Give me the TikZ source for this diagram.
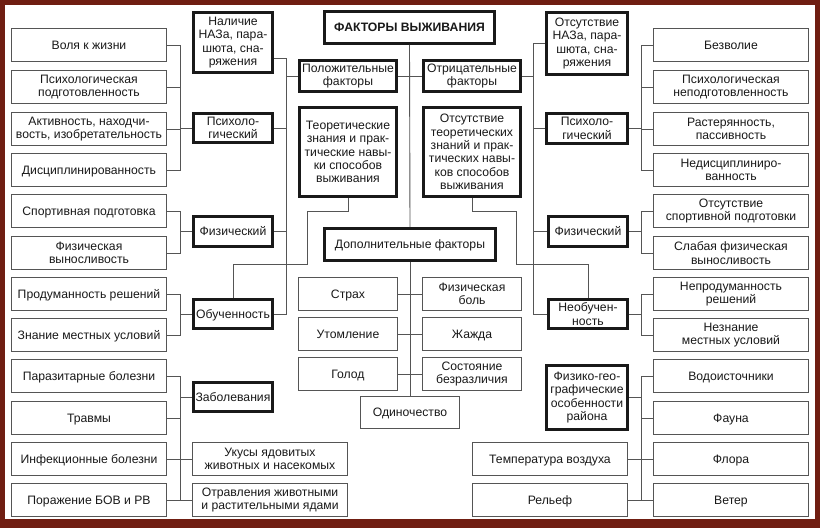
\documentclass[tikz,border=0pt]{standalone}
\usepackage{fontspec}
\setmainfont{Liberation Sans}
\usetikzlibrary{calc}
\definecolor{frame}{RGB}{112,30,18}
\definecolor{txt}{RGB}{25,25,25}
\definecolor{ln}{RGB}{85,85,85}
\begin{document}
\begin{tikzpicture}[x=1pt,y=-1pt,
 box/.style={draw=ln, line width=1pt, fill=white, align=center, text=txt, inner sep=0pt, font=\fontsize{12.2}{13.4}\selectfont},
 tbox/.style={box, draw=black!90, line width=2.8pt},
 lcol/.style={box, minimum width=155pt, minimum height=33pt},
 cbox/.style={box, minimum width=99pt, minimum height=33pt},
 one/.style={text height=8.7pt, text depth=0pt},
 conn/.style={draw=ln, line width=0.9pt}]
\useasboundingbox (0,0) rectangle (820,528);
\fill[frame] (0,0) rectangle (820,528);
\fill[white] (5,5) rectangle (815,519);
% left column
\node[lcol, one] (L1) at (89,45) {Воля к жизни};
\node[lcol] (L2) at (89,87) {Психологическая\\подготовленность};
\node[lcol] (L3) at (89,129) {Активность, находчи-\\вость, изобретательность};
\node[lcol, one] (L4) at (89,170) {Дисциплинированность};
\node[lcol, one] (L5) at (89,211) {Спортивная подготовка};
\node[lcol] (L6) at (89,253) {Физическая\\выносливость};
\node[lcol, one] (L7) at (89,294) {Продуманность решений};
\node[lcol, one] (L8) at (89,335) {Знание местных условий};
\node[lcol, one] (L9) at (89,376) {Паразитарные болезни};
\node[lcol, one] (L10) at (89,418) {Травмы};
\node[lcol, one] (L11) at (89,459) {Инфекционные болезни};
\node[lcol, one] (L12) at (89,500) {Поражение БОВ и РВ};
% right column
\node[lcol, one] (R1) at (731,45) {Безволие};
\node[lcol] (R2) at (731,87) {Психологическая\\неподготовленность};
\node[lcol] (R3) at (731,129) {Растерянность,\\пассивность};
\node[lcol] (R4) at (731,170) {Недисциплиниро-\\ванность};
\node[lcol] (R5) at (731,211) {Отсутствие\\спортивной подготовки};
\node[lcol] (R6) at (731,253) {Слабая физическая\\выносливость};
\node[lcol] (R7) at (731,294) {Непродуманность\\решений};
\node[lcol] (R8) at (731,335) {Незнание\\местных условий};
\node[lcol, one] (R9) at (731,376) {Водоисточники};
\node[lcol, one] (R10) at (731,418) {Фауна};
\node[lcol, one] (R11) at (731,459) {Флора};
\node[lcol, one] (R12) at (731,500) {Ветер};
% left second column
\node[tbox, minimum width=79pt, minimum height=60pt] (LNal) at (233,42.5) {Наличие\\НАЗа, пара-\\шюта, сна-\\ряжения};
\node[tbox, minimum width=79pt, minimum height=29pt] (LPsy) at (233,128) {Психоло-\\гический};
\node[tbox, one, minimum width=79pt, minimum height=30pt] (LPhys) at (233,231.5) {Физический};
\node[tbox, one, minimum width=79pt, minimum height=29pt] (LObu) at (233,314) {Обученность};
\node[tbox, one, minimum width=79pt, minimum height=29pt] (LZab) at (233,397) {Заболевания};
\node[lcol] (LUk) at (270,459) {Укусы ядовитых\\животных и насекомых};
\node[lcol] (LOtr) at (270,500) {Отравления животными\\и растительными ядами};
% right second column
\node[tbox, minimum width=81pt, minimum height=62pt] (ROts) at (587,43.5) {Отсутствие\\НАЗа, пара-\\шюта, сна-\\ряжения};
\node[tbox, minimum width=81pt, minimum height=30pt] (RPsy) at (587,128.5) {Психоло-\\гический};
\node[tbox, one, minimum width=79pt, minimum height=30pt] (RPhys) at (588,231.5) {Физический};
\node[tbox, minimum width=79pt, minimum height=29pt] (RNeob) at (588,314) {Необучен-\\ность};
\node[tbox, minimum width=81pt, minimum height=64pt] (RFiz) at (587,397.5) {Физико-гео-\\графические\\особенности\\района};
\node[lcol, one] (RTemp) at (550,459) {Температура воздуха};
\node[lcol, one] (RRel) at (550,500) {Рельеф};
% center
\node[tbox, one, minimum width=170pt, minimum height=32pt, font=\fontsize{12.2}{13.4}\selectfont\bfseries] (Main) at (409.5,27.5) {ФАКТОРЫ ВЫЖИВАНИЯ};
\node[tbox, minimum width=97pt, minimum height=31pt] (Pos) at (348,76) {Положительные\\факторы};
\node[tbox, minimum width=97pt, minimum height=31pt] (Neg) at (472,76) {Отрицательные\\факторы};
\node[tbox, minimum width=97pt, minimum height=89pt] (Teor) at (348,152) {Теоретические\\знания и прак-\\тические навы-\\ки способов\\выживания};
\node[tbox, minimum width=97pt, minimum height=89pt] (NTeor) at (472,152) {Отсутствие\\теоретических\\знаний и прак-\\тических навы-\\ков способов\\выживания};
\node[tbox, one, minimum width=171pt, minimum height=32pt] (Dop) at (410,244.5) {Дополнительные факторы};
\node[cbox, one] (Strah) at (348,294) {Страх};
\node[cbox] (Bol) at (472,294) {Физическая\\боль};
\node[cbox, one] (Utom) at (348,334) {Утомление};
\node[cbox, one] (Zhazh) at (472,334) {Жажда};
\node[cbox, one] (Golod) at (348,374) {Голод};
\node[cbox] (Sost) at (472,374) {Состояние\\безразличия};
\node[cbox, one, minimum height=32pt] (Odin) at (410,412.5) {Одиночество};
% bus coordinates
\coordinate (bl) at (180,0);
\coordinate (bm) at (286,0);
\coordinate (brm) at (533,0);
\coordinate (br) at (641,0);
\coordinate (j58) at (0,58);
\coordinate (ta) at (307,211);
\coordinate (tb) at (307,264);
\coordinate (ua) at (516,211);
\coordinate (ub) at (516,264);
% left groups
\draw[conn] (L1.east) -- (L1.east-|bl) -- (L4.east-|bl) -- (L4.east);
\draw[conn] (L2.east) -- (L2.east-|bl);
\draw[conn] (L3.east) -- (L3.east-|bl);
\draw[conn] (LPsy.west) -- (LPsy.west-|bl);
\draw[conn] (L5.east) -- (L5.east-|bl) -- (L6.east-|bl) -- (L6.east);
\draw[conn] (LPhys.west) -- (LPhys.west-|bl);
\draw[conn] (L7.east) -- (L7.east-|bl) -- (L8.east-|bl) -- (L8.east);
\draw[conn] (LObu.west) -- (LObu.west-|bl);
\draw[conn] (L9.east) -- (L9.east-|bl) -- (L12.east-|bl) -- (L12.east);
\draw[conn] (L10.east) -- (L10.east-|bl);
\draw[conn] (LZab.west) -- (LZab.west-|bl);
\draw[conn] (L11.east) -- (LUk.west);
\draw[conn] (L12.east) -- (LOtr.west);
% left main bus
\draw[conn] (LNal.east|-j58) -- (bm|-j58) -- (bm|-LObu.east) -- (LObu.east);
\draw[conn] (LPsy.east) -- (LPsy.east-|bm);
\draw[conn] (LPhys.east) -- (LPhys.east-|bm);
\draw[conn] (Pos.west) -- (Pos.west-|bm);
% right main bus
\draw[conn] (ROts.west) -- (ROts.west-|brm) -- (RNeob.west-|brm) -- (RNeob.west);
\draw[conn] (Neg.east) -- (Neg.east-|brm);
\draw[conn] (RPsy.west) -- (RPsy.west-|brm);
\draw[conn] (RPhys.west) -- (RPhys.west-|brm);
% right groups
\draw[conn] (R1.west) -- (R1.west-|br) -- (R4.west-|br) -- (R4.west);
\draw[conn] (R2.west) -- (R2.west-|br);
\draw[conn] (R3.west) -- (R3.west-|br);
\draw[conn] (RPsy.east) -- (RPsy.east-|br);
\draw[conn] (R5.west) -- (R5.west-|br) -- (R6.west-|br) -- (R6.west);
\draw[conn] (RPhys.east) -- (RPhys.east-|br);
\draw[conn] (R7.west) -- (R7.west-|br) -- (R8.west-|br) -- (R8.west);
\draw[conn] (RNeob.east) -- (RNeob.east-|br);
\draw[conn] (R9.west) -- (R9.west-|br) -- (R12.west-|br) -- (R12.west);
\draw[conn] (R10.west) -- (R10.west-|br);
\draw[conn] (RFiz.east) -- (RFiz.east-|br);
\draw[conn] (RTemp.east) -- (R11.west);
\draw[conn] (RRel.east) -- (R12.west);
% center
\draw[conn] (Main.south) -- (Dop.north);
\draw[conn] (Pos.east) -- (Neg.west);
\draw[conn] (Dop.south) -- (Odin.north);
\draw[conn] (Strah.east) -- (Bol.west);
\draw[conn] (Utom.east) -- (Zhazh.west);
\draw[conn] (Golod.east) -- (Sost.west);
\draw[conn] (Teor.south) |- (ta) -- (tb) -| (LObu.north);
\draw[conn] (NTeor.south) |- (ua) -- (ub) -| (RNeob.north);
\end{tikzpicture}
\end{document}
